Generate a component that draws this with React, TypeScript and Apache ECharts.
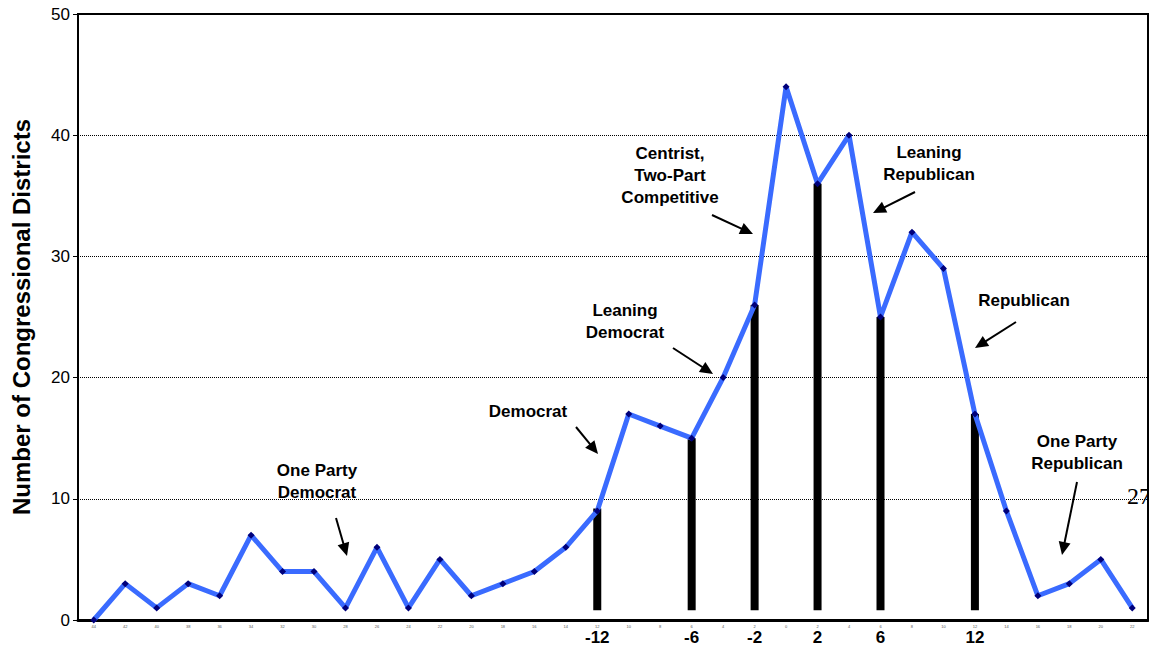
import React, { useEffect, useRef } from "react";
import * as echarts from "echarts";

// Partisan index categories (small tick labels) and emphasised labels
const smallLabels: string[] = [
  "44", "42", "40", "38", "36", "34", "32", "30", "28", "26", "24", "22",
  "20", "18", "16", "14", "12", "10", "8", "6", "4", "2", "0", "2",
  "4", "6", "8", "10", "12", "14", "16", "18", "20", "22",
];
const bigLabels: string[] = [
  "", "", "", "", "", "", "", "", "", "", "", "", "", "", "", "",
  "-12", "", "", "-6", "", "-2", "", "2", "", "6", "", "", "12", "", "", "", "", "",
];
// Number of congressional districts per category
const districts: number[] = [
  0, 3, 1, 3, 2, 7, 4, 4, 1, 6, 1, 5, 2, 3, 4, 6,
  9, 17, 16, 15, 20, 26, 44, 36, 40, 25, 32, 29, 17, 9, 2, 3, 5, 1,
];
// Black marker bars (base and top values)
const barBase: number = 0.8;
const barTop: (number | null)[] = [
  null, null, null, null, null, null, null, null, null, null, null, null, null, null, null, null,
  9.2, null, null, 15, null, 26, null, 36, null, 25, null, null, 17, null, null, null, null, null,
];
const yTicks = { min: 0, max: 50, interval: 10 };

const FONT = "'Liberation Sans', Arial, sans-serif";

function arrow(x1: number, y1: number, x2: number, y2: number): any[] {
  const dx = x2 - x1;
  const dy = y2 - y1;
  const len = Math.sqrt(dx * dx + dy * dy);
  const ux = dx / len;
  const uy = dy / len;
  const hl = 13;
  const hw = 6;
  const bx = x2 - ux * hl;
  const by = y2 - uy * hl;
  return [
    {
      type: "line",
      shape: { x1, y1, x2: bx + ux * 2, y2: by + uy * 2 },
      style: { stroke: "#000", lineWidth: 2 },
      z: 100,
    },
    {
      type: "polygon",
      shape: {
        points: [
          [x2, y2],
          [bx - uy * hw, by + ux * hw],
          [bx + uy * hw, by - ux * hw],
        ],
      },
      style: { fill: "#000" },
      z: 100,
    },
  ];
}

function label(text: string, x: number, y: number): any {
  return {
    type: "text",
    x,
    y,
    z: 100,
    style: {
      text,
      fill: "#000",
      fontFamily: FONT,
      fontSize: 17,
      fontWeight: "bold",
      textAlign: "center",
      textVerticalAlign: "middle",
      lineHeight: 22,
    },
  };
}

export default function App() {
  const ref = useRef<HTMLDivElement>(null);
  useEffect(() => {
    if (!ref.current) return;
    const chart = echarts.init(ref.current, null, { renderer: "svg" });
    const baseData = barTop.map((v) => (v == null ? null : barBase));
    const topData = barTop.map((v) => (v == null ? null : v - barBase));
    chart.setOption({
      animation: false,
      backgroundColor: "#fff",
      grid: {
        left: 78,
        top: 14,
        right: 5,
        bottom: 28,
        show: true,
        borderColor: "#000",
        borderWidth: 2,
      },
      xAxis: [
        {
          type: "category",
          data: smallLabels,
          boundaryGap: true,
          axisLine: { show: true, lineStyle: { color: "#000", width: 3 } },
          axisTick: { show: false },
          axisLabel: { interval: 0, fontSize: 4, color: "#555", margin: 4, fontFamily: FONT },
          splitLine: { show: false },
        },
        {
          type: "category",
          data: bigLabels,
          position: "bottom",
          boundaryGap: true,
          axisLine: { show: false },
          axisTick: { show: false },
          axisLabel: {
            interval: 0,
            fontSize: 17,
            fontWeight: "bold",
            color: "#000",
            margin: 9,
            fontFamily: FONT,
          },
          splitLine: { show: false },
        },
      ],
      yAxis: {
        type: "value",
        min: yTicks.min,
        max: yTicks.max,
        interval: yTicks.interval,
        name: "Number of Congressional Districts",
        nameLocation: "middle",
        nameGap: 45,
        nameTextStyle: { fontSize: 24, fontWeight: "bold", color: "#000", fontFamily: FONT },
        axisLine: { show: true, lineStyle: { color: "#000", width: 2 } },
        axisTick: { show: true, length: 5, lineStyle: { color: "#000", width: 1 } },
        axisLabel: { fontSize: 17, color: "#000", margin: 8, fontFamily: FONT },
        splitLine: { show: true, lineStyle: { color: "#000", type: "dotted", width: 1 } },
      },
      series: [
        {
          type: "bar",
          stack: "b",
          data: baseData,
          barWidth: 8,
          itemStyle: { color: "transparent" },
          z: 2,
        },
        {
          type: "bar",
          stack: "b",
          data: topData,
          barWidth: 8,
          itemStyle: { color: "#000" },
          z: 2,
        },
        {
          type: "line",
          data: districts,
          lineStyle: { color: "#3a6bff", width: 5 },
          symbol: "diamond",
          symbolSize: 7,
          itemStyle: { color: "#00007a", borderWidth: 0 },
          z: 3,
        },
      ],
      graphic: [
        label("One Party\nDemocrat", 317, 481),
        ...arrow(336, 518, 347, 556),
        label("Democrat", 528, 411),
        ...arrow(576, 427, 598, 454),
        label("Leaning\nDemocrat", 625, 321),
        ...arrow(673, 348, 713, 374),
        label("Centrist,\nTwo-Part\nCompetitive", 670, 175),
        ...arrow(712, 215, 753, 234),
        label("Leaning\nRepublican", 929, 163),
        ...arrow(915, 192, 873, 213),
        label("Republican", 1024, 300),
        ...arrow(1016, 322, 975, 348),
        label("One Party\nRepublican", 1077, 452),
        ...arrow(1077, 482, 1062, 555),
        {
          type: "text",
          x: 1127,
          y: 496,
          z: 90,
          style: {
            text: "27",
            fill: "#000",
            fontFamily: "'Liberation Serif', 'DejaVu Serif', serif",
            fontSize: 24,
            textAlign: "left",
            textVerticalAlign: "middle",
          },
        },
        {
          type: "rect",
          shape: { x: 1149, y: 0, width: 10, height: 648 },
          style: { fill: "#fff" },
          z: 95,
        },
        {
          type: "line",
          shape: { x1: 1148, y1: 13, x2: 1148, y2: 621 },
          style: { stroke: "#000", lineWidth: 2 },
          z: 96,
        },
      ],
    });
    return () => chart.dispose();
  }, []);
  return (
    <div
      ref={ref}
      style={{ position: "fixed", left: 0, top: 0, width: 1153, height: 648, background: "#fff" }}
    />
  );
}
